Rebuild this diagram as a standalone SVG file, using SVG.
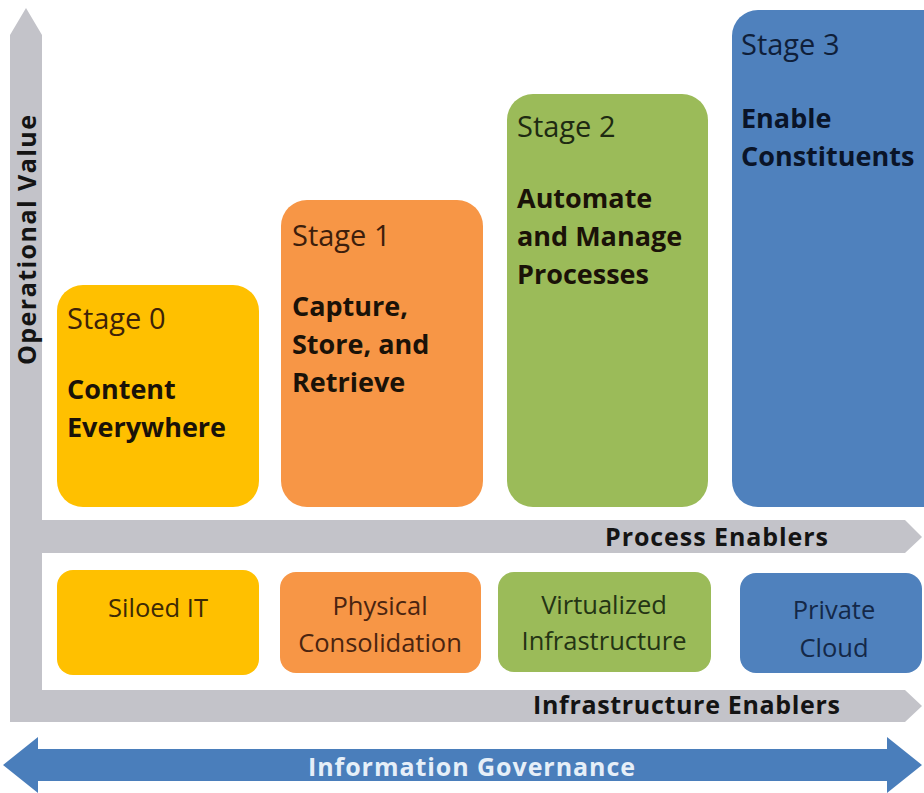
<svg xmlns="http://www.w3.org/2000/svg" width="924" height="793" viewBox="0 0 924 793">
<style>
.lbl{font-family:"Open Sans","Liberation Sans",sans-serif;font-size:29px}
.ttl{font-family:"Open Sans","Liberation Sans",sans-serif;font-size:27px;font-weight:bold;fill:#1a1208}
.sm{font-family:"Open Sans","Liberation Sans",sans-serif;font-size:25.5px;text-anchor:middle}
.bar{font-family:"Open Sans","Liberation Sans",sans-serif;font-size:25px;font-weight:bold;fill:#141414}
.gray{fill:#c3c3c9}
</style>
<rect width="924" height="793" fill="#ffffff"/>
<g id="connectors">
<path class="gray" d="M26,8 L42,35 L42,520 L905,520 L922,537 L905,553 L42,553 L42,690 L905,690 L922,706 L905,722 L10,722 L10,35 Z"/>
<path d="M3,765 L38,737 L38,749 L887,749 L887,737 L922,765 L887,793 L887,781 L38,781 L38,793 Z" fill="#4a7ebb"/>
<text class="bar" x="36" y="365" transform="rotate(-90 36 365)" textLength="250">Operational Value</text>
<text class="bar" x="605" y="546" textLength="223">Process Enablers</text>
<text class="bar" x="533" y="714" textLength="307">Infrastructure Enablers</text>
<text class="bar" x="308" y="776" textLength="327" style="fill:#e6eff8">Information Governance</text>
</g>
<g id="stage0">
<rect x="57" y="285" width="202" height="222" rx="26" fill="#ffc000"/>
<text class="lbl" x="67" y="329" fill="#3d2208">Stage 0</text>
<text class="ttl" x="67" y="399">Content</text>
<text class="ttl" x="67" y="437">Everywhere</text>
</g>
<g id="stage1">
<rect x="281" y="200" width="202" height="307" rx="26" fill="#f79646"/>
<text class="lbl" x="292" y="246" fill="#3d1e0c">Stage 1</text>
<text class="ttl" x="292" y="316">Capture,</text>
<text class="ttl" x="292" y="354">Store, and</text>
<text class="ttl" x="292" y="392">Retrieve</text>
</g>
<g id="stage2">
<rect x="507" y="94" width="201" height="413" rx="26" fill="#9bbb59"/>
<text class="lbl" x="517" y="137" fill="#1e2a12">Stage 2</text>
<text class="ttl" x="517" y="208">Automate</text>
<text class="ttl" x="517" y="246">and Manage</text>
<text class="ttl" x="517" y="284">Processes</text>
</g>
<g id="stage3">
<rect x="732" y="10" width="230" height="497" rx="26" fill="#4f81bd"/>
<text class="lbl" x="741" y="55" fill="#0f1f3a">Stage 3</text>
<text class="ttl" x="741" y="128" style="fill:#0a1428">Enable</text>
<text class="ttl" x="741" y="166" style="fill:#0a1428">Constituents</text>
</g>
<g id="siloed">
<rect x="57" y="570" width="202" height="105" rx="16" fill="#ffc000"/>
<text class="sm" x="158" y="617" fill="#3d2a05">Siloed IT</text>
</g>
<g id="physical">
<rect x="280" y="572" width="201" height="101" rx="16" fill="#f79646"/>
<text class="sm" x="380" y="615" fill="#4a2410">Physical</text>
<text class="sm" x="380" y="652" fill="#4a2410">Consolidation</text>
</g>
<g id="virtualized">
<rect x="498" y="572" width="213" height="100" rx="16" fill="#9bbb59"/>
<text class="sm" x="604" y="614" fill="#243414">Virtualized</text>
<text class="sm" x="604" y="650" fill="#243414">Infrastructure</text>
</g>
<g id="private">
<rect x="740" y="573" width="182" height="100" rx="16" fill="#4f81bd"/>
<text class="sm" x="834" y="619" fill="#142848">Private</text>
<text class="sm" x="834" y="657" fill="#142848">Cloud</text>
</g>
</svg>
